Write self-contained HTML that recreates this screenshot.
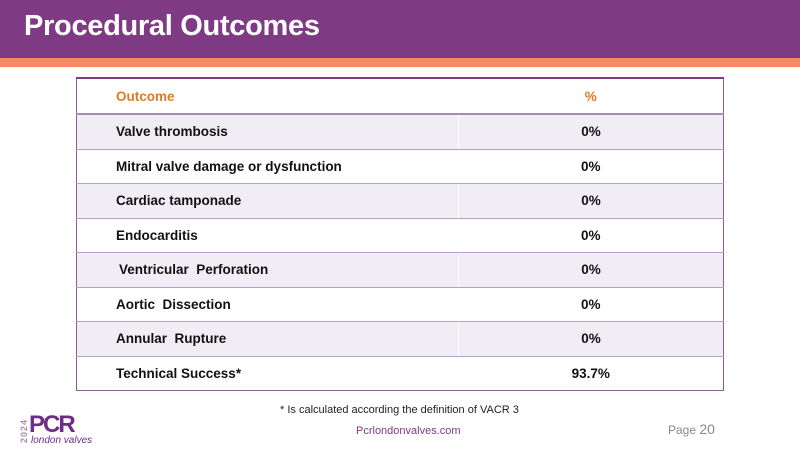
<!DOCTYPE html>
<html><head><meta charset="utf-8"><style>
body{margin:0;width:800px;height:450px;position:relative;background:#fff;font-family:"Liberation Sans",sans-serif;overflow:hidden}
.hdr{position:absolute;left:0;top:0;width:800px;height:58px;background:#7e3a82}
.hdr h1{margin:0;position:absolute;left:24px;top:10px;color:#fff;font-size:29px;font-weight:bold;letter-spacing:-0.3px}
.stripe{position:absolute;left:0;top:58px;width:800px;height:9px;background:#f6896a}
table{position:absolute;left:76px;top:77px;width:648px;border-collapse:collapse;border:1.5px solid #8a5c94;border-top:2px solid #7e3a82}
td{height:33.5px;padding:0;font-size:13.5px;font-weight:bold;color:#111;border-bottom:1.5px solid #b9a0c9}
td.a{padding-left:39px;width:339px}
td.b{text-align:center}
tr.s td{background:#f0edf4}
tr.s td.a{border-right:1px solid #fff}
tr.h td{color:#e07a22;height:34px;border-bottom:2px solid #a88bbb}
.note{position:absolute;left:280px;top:404px;font-size:11px;color:#222}
.site{position:absolute;left:356px;top:425px;font-size:11px;color:#7e3a82}
.page{position:absolute;left:668px;top:421px;font-size:12px;color:#888}
.page span{font-size:14px}
.logo{position:absolute;left:16px;top:414px}
.yr{position:absolute;left:-4px;top:12px;transform:rotate(-90deg);font-size:9px;color:#a98fb8;font-weight:bold;letter-spacing:1px}
.pcr{position:absolute;left:13px;top:-3px;font-size:24px;font-weight:bold;color:#6e2d86;letter-spacing:-2px}
.lv{position:absolute;left:15px;top:21px;font-size:10px;font-style:italic;color:#6e2d86;white-space:nowrap}
</style></head><body>
<div class="hdr"><h1>Procedural Outcomes</h1></div>
<div class="stripe"></div>
<table>
<tr class="h"><td class="a">Outcome</td><td class="b">%</td></tr>
<tr class="s"><td class="a">Valve thrombosis</td><td class="b">0%</td></tr>
<tr><td class="a">Mitral valve damage or dysfunction</td><td class="b">0%</td></tr>
<tr class="s"><td class="a">Cardiac tamponade</td><td class="b">0%</td></tr>
<tr><td class="a">Endocarditis</td><td class="b">0%</td></tr>
<tr class="s"><td class="a" style="padding-left:42px">Ventricular&nbsp; Perforation</td><td class="b">0%</td></tr>
<tr><td class="a">Aortic&nbsp; Dissection</td><td class="b">0%</td></tr>
<tr class="s"><td class="a">Annular&nbsp; Rupture</td><td class="b">0%</td></tr>
<tr><td class="a" style="border-bottom:none">Technical Success*</td><td class="b" style="border-bottom:none">93.7%</td></tr>
</table>
<div class="note">* Is calculated according the definition of VACR 3</div>
<div class="site">Pcrlondonvalves.com</div>
<div class="page">Page <span>20</span></div>
<div class="logo"><div class="yr">2024</div><div class="pcr">PCR</div><div class="lv">london valves</div></div>
</body></html>
